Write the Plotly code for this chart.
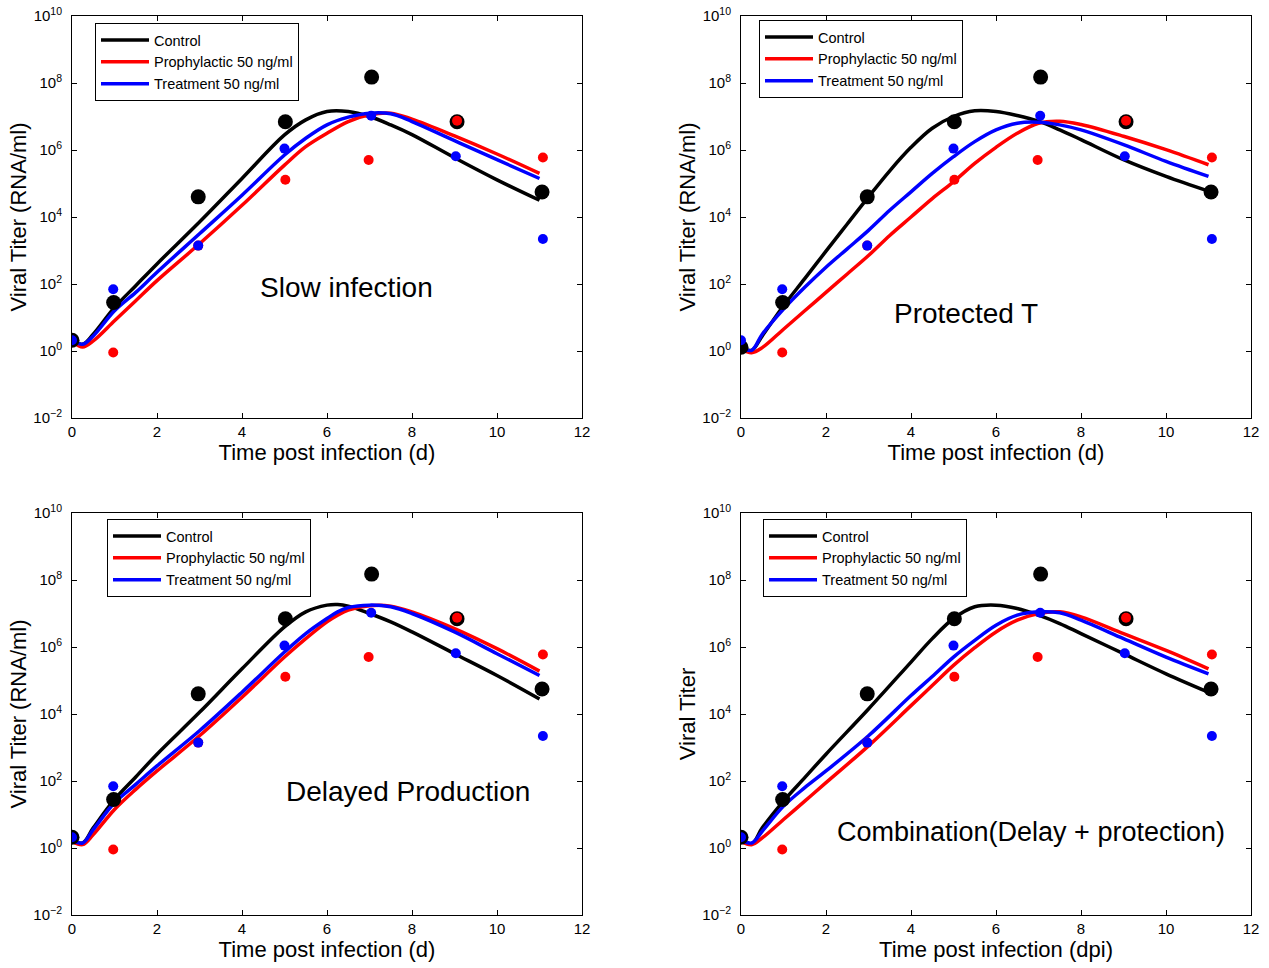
import plotly.graph_objects as go

# ---------------- data ----------------
series_names = ["Control", "Prophylactic 50 ng/ml", "Treatment 50 ng/ml"]
series_colors = ["#000000", "#ff0000", "#0000ff"]

panel_labels = ["Slow infection", "Protected T", "Delayed Production",
                "Combination(Delay + protection)"]
x_titles = ["Time post infection (d)", "Time post infection (d)",
            "Time post infection (d)", "Time post infection (dpi)"]
y_titles = ["Viral Titer (RNA/ml)", "Viral Titer (RNA/ml)",
            "Viral Titer (RNA/ml)", "Viral Titer"]

xtick_vals = [0, 2, 4, 6, 8, 10, 12]
ytick_vals = [1e-2, 1e0, 1e2, 1e4, 1e6, 1e8, 1e10]
ytick_text = ["10<sup>−2</sup>", "10<sup>0</sup>", "10<sup>2</sup>", "10<sup>4</sup>",
              "10<sup>6</sup>", "10<sup>8</sup>", "10<sup>10</sup>"]

# observed titers (same experiment in every panel)
ctrl_obs_t = [0, 0.98, 2.97, 5.02, 7.05, 9.06, 11.06]
ctrl_obs = [2.1, 28, 4.0e4, 7.0e6, 1.5e8, 7.0e6, 5.6e4]
ctrl_obs_protected = [1.3, 28, 4.0e4, 7.0e6, 1.5e8, 7.0e6, 5.6e4]
proph_obs_t = [0.97, 2.97, 5.02, 6.98, 9.06, 11.08]
proph_obs = [0.9, 1.4e3, 1.3e5, 5.0e5, 7.5e6, 6.0e5]
treat_obs_t = [0, 0.97, 2.97, 5.0, 7.04, 9.03, 11.08]
treat_obs = [2.1, 70, 1.4e3, 1.1e6, 1.05e7, 6.5e5, 2.2e3]

# model curves, read as log10(titer)
slow_t = [0, 0.25, 0.5, 1, 1.5, 2, 3, 4, 5, 5.5, 6, 6.5, 7, 7.5, 8, 9, 10, 11]
slow_ctrl = [0.33, 0.2, 0.5, 1.3, 1.95, 2.6, 3.85, 5.15, 6.45, 6.9, 7.15, 7.15, 7.0, 6.75, 6.46, 5.77, 5.11, 4.5]
slow_proph = [0.3, 0.12, 0.3, 0.9, 1.5, 2.1, 3.2, 4.35, 5.55, 6.1, 6.5, 6.85, 7.05, 7.1, 6.92, 6.42, 5.88, 5.3]
slow_treat = [0.33, 0.2, 0.45, 1.2, 1.75, 2.35, 3.5, 4.65, 5.85, 6.35, 6.75, 6.98, 7.1, 7.08, 6.85, 6.28, 5.71, 5.15]

prot_t = [0, 0.25, 0.5, 1, 1.5, 2, 2.5, 3, 3.5, 4, 4.5, 5, 5.5, 6, 6.5, 7, 7.5, 8, 9, 10, 11]
prot_ctrl = [0.1, 0.02, 0.45, 1.35, 2.16, 2.98, 3.79, 4.6, 5.38, 6.08, 6.65, 7.0, 7.17, 7.15, 7.03, 6.86, 6.6, 6.31, 5.71, 5.21, 4.77]
prot_proph = [0.05, -0.05, 0.1, 0.65, 1.2, 1.75, 2.3, 2.85, 3.45, 4.0, 4.55, 5.05, 5.6, 6.08, 6.5, 6.8, 6.86, 6.76, 6.41, 6.01, 5.56]
prot_treat = [0.1, 0.02, 0.5, 1.25, 1.9, 2.5, 3.05, 3.6, 4.2, 4.75, 5.3, 5.8, 6.25, 6.6, 6.8, 6.83, 6.75, 6.6, 6.16, 5.66, 5.21]

delay_t = [0, 0.25, 0.5, 1, 1.5, 2, 3, 4, 5, 5.5, 6, 6.25, 6.5, 7, 7.5, 8, 9, 10, 11]
delay_ctrl = [0.25, 0.15, 0.6, 1.45, 2.12, 2.8, 4.05, 5.35, 6.6, 7.05, 7.25, 7.27, 7.22, 7.0, 6.75, 6.45, 5.8, 5.15, 4.45]
delay_proph = [0.2, 0.1, 0.4, 1.15, 1.75, 2.3, 3.35, 4.5, 5.7, 6.25, 6.75, 6.95, 7.1, 7.23, 7.22, 7.05, 6.55, 5.95, 5.28]
delay_treat = [0.25, 0.15, 0.55, 1.35, 1.9, 2.45, 3.5, 4.65, 5.85, 6.4, 6.85, 7.05, 7.18, 7.25, 7.2, 7.0, 6.45, 5.8, 5.15]

comb_t = [0, 0.25, 0.5, 1, 1.5, 2, 3, 4, 4.5, 5, 5.5, 6, 6.5, 7, 7.5, 8, 9, 10, 11]
comb_ctrl = [0.25, 0.12, 0.6, 1.4, 2.1, 2.8, 4.15, 5.55, 6.25, 6.85, 7.2, 7.25, 7.15, 6.95, 6.7, 6.4, 5.8, 5.2, 4.65]
comb_proph = [0.2, 0.1, 0.3, 0.85, 1.4, 1.95, 3.05, 4.25, 4.85, 5.45, 5.98, 6.45, 6.8, 7.0, 7.05, 6.9, 6.4, 5.9, 5.35]
comb_treat = [0.25, 0.15, 0.5, 1.25, 1.8, 2.3, 3.35, 4.55, 5.12, 5.7, 6.2, 6.65, 6.95, 7.05, 7.02, 6.8, 6.25, 5.7, 5.2]

curves = [
    (slow_t, [slow_ctrl, slow_proph, slow_treat]),
    (prot_t, [prot_ctrl, prot_proph, prot_treat]),
    (delay_t, [delay_ctrl, delay_proph, delay_treat]),
    (comb_t, [comb_ctrl, comb_proph, comb_treat]),
]
ctrl_obs_panels = [ctrl_obs, ctrl_obs_protected, ctrl_obs, ctrl_obs]

# label positions (x in days, y in log10 titer) and sizes
label_pos = [(6.45, 1.89), (5.29, 1.11), (7.9, 1.7), (6.82, 0.48)]
label_size = [28, 28, 28, 27]

# ---------------- layout geometry ----------------
W, H = 1269, 968
FONT = "Liberation Sans, Arial, Helvetica, sans-serif"
col_px = [(72, 582), (741, 1251)]
row_px = [(16, 418), (513, 915)]
legend_px = [(95, 23), (759, 20), (107, 519), (763, 519)]

fig = go.Figure()
layout = dict(width=W, height=H, margin=dict(l=0, r=0, t=0, b=0, autoexpand=False),
              paper_bgcolor="white", plot_bgcolor="white",
              font=dict(family=FONT, color="black"), annotations=[])

for p in range(4):
    r, c = divmod(p, 2)
    sfx = "" if p == 0 else str(p + 1)
    xa, ya = "x" + sfx, "y" + sfx
    leg = "legend" + sfx
    t, ys = curves[p]
    for k in range(3):
        fig.add_trace(go.Scatter(
            x=t, y=[10 ** v for v in ys[k]], mode="lines",
            line=dict(color=series_colors[k], width=3.5, shape="spline", smoothing=1.0),
            name=series_names[k], xaxis=xa, yaxis=ya, legend=leg, showlegend=True))
    for tx, vy, col, sz in [(ctrl_obs_t, ctrl_obs_panels[p], series_colors[0], 15),
                            (proph_obs_t, proph_obs, series_colors[1], 10),
                            (treat_obs_t, treat_obs, series_colors[2], 10)]:
        fig.add_trace(go.Scatter(x=tx, y=vy, mode="markers",
                                 marker=dict(color=col, size=sz),
                                 xaxis=xa, yaxis=ya, showlegend=False, hoverinfo="skip"))
    x0, x1 = col_px[c]
    y0, y1 = row_px[r]
    layout["xaxis" + sfx] = dict(
        domain=[x0 / W, x1 / W], anchor=ya, range=[0, 12], tickvals=xtick_vals,
        ticks="inside", ticklen=5, tickcolor="black", showline=True, linecolor="black",
        linewidth=1, mirror="ticks", showgrid=False, zeroline=False, automargin=False,
        tickfont=dict(size=15, family=FONT),
        title=dict(text=x_titles[p], font=dict(size=22, family=FONT), standoff=4))
    layout["yaxis" + sfx] = dict(
        domain=[1 - y1 / H, 1 - y0 / H], anchor=xa, type="log", range=[-2, 10],
        tickvals=ytick_vals, ticktext=ytick_text,
        ticks="inside", ticklen=5, tickcolor="black", showline=True, linecolor="black",
        linewidth=1, mirror="ticks", showgrid=False, zeroline=False, automargin=False,
        tickfont=dict(size=15, family=FONT), ticklabelstandoff=6,
        title=dict(text=y_titles[p], font=dict(size=22, family=FONT), standoff=0))
    lx, ly = legend_px[p]
    layout[leg] = dict(x=lx / W, y=1 - ly / H, xanchor="left", yanchor="top",
                       bordercolor="black", borderwidth=1, bgcolor="white",
                       font=dict(size=14.5, family=FONT), itemwidth=48,
                       tracegroupgap=0)
    layout["annotations"].append(dict(
        x=label_pos[p][0], y=label_pos[p][1], xref=xa, yref=ya,
        text=panel_labels[p], showarrow=False,
        font=dict(size=label_size[p], family=FONT),
        xanchor="center", yanchor="middle"))

fig.update_layout(**layout)
fig.write_html("out.html")
